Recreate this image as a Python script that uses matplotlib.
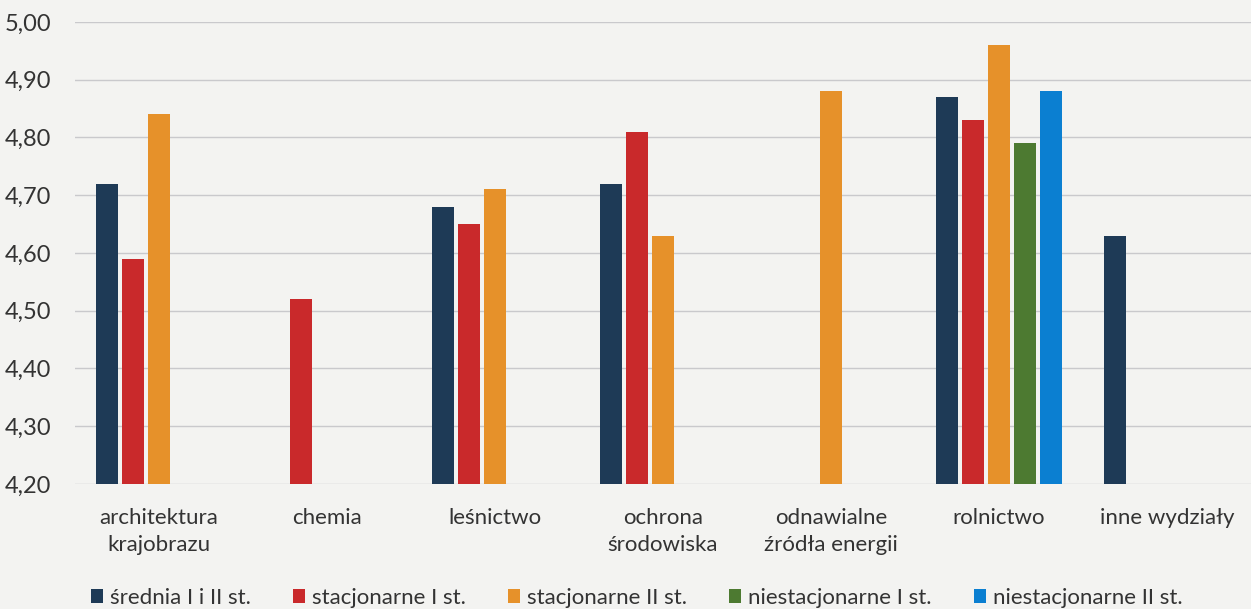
import numpy as np
import matplotlib
matplotlib.use("Agg")
import matplotlib.pyplot as plt
from matplotlib.ticker import FuncFormatter, MultipleLocator

plt.rcParams['font.family'] = ['Lato', 'DejaVu Sans']

categories = ["architektura\nkrajobrazu", "chemia", "leśnictwo", "ochrona\nśrodowiska",
              "odnawialne\nźródła energii", "rolnictwo", "inne wydziały"]
series_names = ["średnia I i II st.", "stacjonarne I st.", "stacjonarne II st.",
                "niestacjonarne I st.", "niestacjonarne II st."]
srednia = [4.72, np.nan, 4.68, 4.72, np.nan, 4.87, 4.63]
stac_1 = [4.59, 4.52, 4.65, 4.81, np.nan, 4.83, np.nan]
stac_2 = [4.84, np.nan, 4.71, 4.63, 4.88, 4.96, np.nan]
niestac_1 = [np.nan, np.nan, np.nan, np.nan, np.nan, 4.79, np.nan]
niestac_2 = [np.nan, np.nan, np.nan, np.nan, np.nan, 4.88, np.nan]
colors = ["#1e3a56", "#c9292b", "#e6912a", "#4d7a31", "#0b7fd1"]

BASE = 4.20
bg = "#f3f3f1"

fig = plt.figure(figsize=(12.51, 6.09), dpi=100, facecolor=bg)
ax = fig.add_axes([0.06, 0.2053, 0.94, 0.7586], facecolor=bg)

x = np.arange(len(categories))
step = 0.155
width = 0.131
for i, (vals, name) in enumerate(zip([srednia, stac_1, stac_2, niestac_1, niestac_2], series_names)):
    v = np.array(vals)
    ax.bar(x + (i - 2) * step, v - BASE, width, bottom=BASE, color=colors[i], label=name, zorder=3)

ax.set_xlim(-0.5, 6.5)
ax.set_ylim(4.20, 5.00)
ax.yaxis.set_major_locator(MultipleLocator(0.1))
ax.yaxis.set_major_formatter(FuncFormatter(lambda v, p: f"{v:.2f}".replace(".", ",")))
ax.grid(axis="y", color="#c9c9cc", linewidth=1.0, zorder=0)
for s in ax.spines.values():
    s.set_visible(False)
ax.set_xticks(x)
ax.set_xticklabels(categories, fontsize=16, color="#333333", linespacing=1.45)
ax.tick_params(axis="x", length=0, pad=17)
ax.tick_params(axis="y", length=0, pad=17, labelsize=17, labelcolor="#333333")

fig.legend(loc="lower center", bbox_to_anchor=(0.509, 0.0), ncol=5, frameon=False,
           fontsize=16, handlelength=0.55, handleheight=0.55, handletextpad=0.3,
           columnspacing=1.9, labelcolor="#333333", borderaxespad=0.0, borderpad=0.05)

fig.savefig("out.png", dpi=100, facecolor=bg)
